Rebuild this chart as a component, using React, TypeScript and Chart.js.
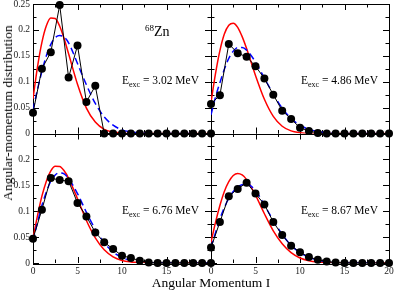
import React, { useEffect, useRef } from "react";
import { Chart, registerables } from "chart.js";

Chart.register(...registerables);

// ---------- data ----------
const angularMomentum = [0, 1, 2, 3, 4, 5, 6, 7, 8, 9, 10, 11, 12, 13, 14, 15, 16, 17, 18, 19, 20];

const exp302 = [0.040, 0.125, 0.157, 0.248, 0.108, 0.170, 0.061, 0.092, 0, 0, 0, 0, 0, 0, 0, 0, 0, 0, 0, 0, 0];
const exp486 = [0.057, 0.074, 0.173, 0.155, 0.148, 0.130, 0.106, 0.075, 0.044, 0.028, 0.011, 0.005, 0.001, 0, 0, 0, 0, 0, 0, 0, 0];
const exp676 = [0.047, 0.103, 0.164, 0.160, 0.158, 0.116, 0.090, 0.059, 0.040, 0.027, 0.014, 0.0097, 0.0045, 0.001, 0, 0, 0, 0, 0, 0, 0];
const exp867 = [0.030, 0.079, 0.129, 0.143, 0.155, 0.134, 0.113, 0.079, 0.054, 0.0335, 0.0206, 0.0116, 0.0064, 0.003, 0.001, 0, 0, 0, 0, 0, 0];

const curveGrid = [0, 0.5, 1, 1.5, 2, 2.5, 3, 3.5, 4, 5, 6, 7, 8, 9, 10, 11, 12, 13, 14, 16, 18, 20];

const red302 = [0.067, 0.128, 0.176, 0.208, 0.223, 0.222, 0.207, 0.183, 0.154, 0.095, 0.049, 0.022, 0.008, 0.003, 0.001, 0, 0, 0, 0, 0, 0, 0];
const blue302 = [0.045, 0.085, 0.120, 0.150, 0.172, 0.185, 0.189, 0.186, 0.175, 0.135, 0.094, 0.058, 0.032, 0.016, 0.007, 0.003, 0.001, 0, 0, 0, 0, 0];

const red486 = [0.060, 0.115, 0.160, 0.192, 0.209, 0.213, 0.205, 0.187, 0.164, 0.112, 0.066, 0.033, 0.014, 0.005, 0.0015, 0, 0, 0, 0, 0, 0, 0];
const blue486 = [0.036, 0.070, 0.098, 0.124, 0.145, 0.159, 0.166, 0.166, 0.161, 0.138, 0.107, 0.076, 0.049, 0.029, 0.016, 0.008, 0.004, 0.0015, 0.0005, 0, 0, 0];

const red676 = [0.047, 0.091, 0.129, 0.158, 0.178, 0.187, 0.1865, 0.178, 0.1635, 0.124, 0.082, 0.0485, 0.0256, 0.012, 0.005, 0.002, 0.0006, 0, 0, 0, 0, 0];
const blue676 = [0.042, 0.078, 0.111, 0.137, 0.158, 0.170, 0.174, 0.172, 0.163, 0.134, 0.098, 0.065, 0.039, 0.021, 0.0107, 0.0049, 0.002, 0.0008, 0, 0, 0, 0];

const red867 = [0.040, 0.078, 0.111, 0.138, 0.157, 0.169, 0.173, 0.170, 0.161, 0.131, 0.095, 0.062, 0.037, 0.020, 0.0097, 0.0044, 0.0018, 0.0007, 0, 0, 0, 0];
const blue867 = [0.030, 0.058, 0.085, 0.107, 0.125, 0.138, 0.147, 0.151, 0.152, 0.140, 0.112, 0.082, 0.055, 0.034, 0.020, 0.011, 0.0055, 0.0025, 0.001, 0, 0, 0];

const yTickLabels = ["0", "0.05", "0.1", "0.15", "0.2", "0.25"];
const xTickLabels = ["0", "5", "10", "15", "20"];
const energyLabels = ["3.02", "4.86", "6.76", "8.67"];

// ---------- helpers ----------
const SERIF = "'Liberation Serif', 'DejaVu Serif', serif";

function pts(xs: number[], ys: number[]) {
  return xs.map((x, i) => ({ x, y: ys[i] }));
}

function panelSets(xID: string, yID: string, expVals: number[], red: number[], blue: number[]) {
  return [
    {
      data: pts(angularMomentum, expVals),
      xAxisID: xID,
      yAxisID: yID,
      borderColor: "#000",
      backgroundColor: "#000",
      borderWidth: 1,
      pointRadius: 4,
      pointBorderWidth: 0,
      showLine: true,
      clip: false as any,
      order: 0,
    },
    {
      data: pts(curveGrid, blue),
      xAxisID: xID,
      yAxisID: yID,
      borderColor: "#0000ff",
      borderWidth: 1.5,
      borderDash: [7, 4],
      pointRadius: 0,
      cubicInterpolationMode: "monotone" as const,
      order: 1,
    },
    {
      data: pts(curveGrid, red),
      xAxisID: xID,
      yAxisID: yID,
      borderColor: "#ff0000",
      borderWidth: 1.5,
      pointRadius: 0,
      cubicInterpolationMode: "monotone" as const,
      order: 2,
    },
  ];
}

const framePlugin = {
  id: "panelFrames",
  beforeDatasetsDraw(chart: any) {
    const ctx = chart.ctx;
    const panels = [
      ["xL", "yT"],
      ["xR", "yT"],
      ["xL", "yB"],
      ["xR", "yB"],
    ];
    ctx.save();
    ctx.strokeStyle = "#000";
    ctx.lineWidth = 1;
    const line = (a: number, b: number, c: number, d: number) => {
      ctx.beginPath();
      ctx.moveTo(a, b);
      ctx.lineTo(c, d);
      ctx.stroke();
    };
    for (const [xi, yi] of panels) {
      const xs = chart.scales[xi];
      const ys = chart.scales[yi];
      const l = xs.left, r = xs.right, t = ys.top, b = ys.bottom;
      ctx.strokeRect(Math.round(l) + 0.5, Math.round(t) + 0.5, Math.round(r - l), Math.round(b - t));
      for (let k = 0; k <= 8; k++) {
        const v = k * 2.5;
        const px = Math.round(xs.getPixelForValue(v)) + 0.5;
        const len = k % 2 === 0 ? 6 : 3.5;
        line(px, b, px, b - len);
        line(px, t, px, t + len);
      }
      for (let k = 0; k <= 10; k++) {
        const v = k * 0.025;
        const py = Math.round(ys.getPixelForValue(v)) + 0.5;
        const len = k % 2 === 0 ? 6 : 3.5;
        line(l, py, l + len, py);
        line(r, py, r - len, py);
      }
    }
    ctx.restore();
  },
};

function yCallback(hideTop: boolean) {
  return (value: number) => {
    const idx = Math.round(value / 0.05);
    if (hideTop && idx === yTickLabels.length - 1) return "";
    return yTickLabels[idx] ?? "";
  };
}
function xCallback(hideLast: boolean) {
  return (value: number) => {
    const idx = Math.round(value / 5);
    if (hideLast && idx === xTickLabels.length - 1) return "";
    return xTickLabels[idx] ?? "";
  };
}

const tickFont = { family: SERIF, size: 9.5 };

function fixY(scale: any) {
  scale.width = 33;
  scale.paddingTop = 0;
  scale.paddingBottom = 0;
}
function fixX(scale: any) {
  scale.height = 28;
  scale.paddingLeft = 0;
  scale.paddingRight = 0;
}

export default function App() {
  const canvasRef = useRef<HTMLCanvasElement | null>(null);

  useEffect(() => {
    if (!canvasRef.current) return;
    const chart = new Chart(canvasRef.current, {
      type: "line",
      data: {
        datasets: [
          ...panelSets("xL", "yT", exp302, red302, blue302),
          ...panelSets("xR", "yT", exp486, red486, blue486),
          ...panelSets("xL", "yB", exp676, red676, blue676),
          ...panelSets("xR", "yB", exp867, red867, blue867),
        ] as any,
      },
      options: {
        animation: false,
        responsive: false,
        events: [],
        layout: { padding: { top: 4, right: 6, left: 0, bottom: 0 } },
        plugins: { legend: { display: false }, tooltip: { enabled: false } },
        scales: {
          xL: {
            type: "linear",
            position: "bottom",
            stack: "h",
            stackWeight: 1,
            min: 0,
            max: 20,
            grid: { display: false, drawTicks: false },
            border: { display: false },
            ticks: { stepSize: 5, autoSkip: false, maxRotation: 0, padding: 3, font: tickFont, color: "#222", callback: xCallback(true) },
            afterFit: fixX,
          },
          xR: {
            type: "linear",
            position: "bottom",
            stack: "h",
            stackWeight: 1,
            min: 0,
            max: 20,
            grid: { display: false, drawTicks: false },
            border: { display: false },
            ticks: { stepSize: 5, autoSkip: false, maxRotation: 0, padding: 3, font: tickFont, color: "#222", callback: xCallback(false) },
            afterFit: fixX,
          },
          yB: {
            type: "linear",
            position: "left",
            stack: "v",
            stackWeight: 1,
            min: 0,
            max: 0.25,
            grid: { display: false, drawTicks: false },
            border: { display: false },
            ticks: { stepSize: 0.05, autoSkip: false, padding: 3, font: tickFont, color: "#222", callback: yCallback(true) },
            afterFit: fixY,
          },
          yT: {
            type: "linear",
            position: "left",
            stack: "v",
            stackWeight: 1,
            min: 0,
            max: 0.25,
            grid: { display: false, drawTicks: false },
            border: { display: false },
            ticks: { stepSize: 0.05, autoSkip: false, padding: 3, font: tickFont, color: "#222", callback: yCallback(false) },
            afterFit: fixY,
          },
        } as any,
      },
      plugins: [framePlugin],
    });
    return () => chart.destroy();
  }, []);

  const eStyle = (left: number, top: number): React.CSSProperties => ({
    position: "absolute",
    left,
    top,
    width: 90,
    textAlign: "right",
    fontFamily: SERIF,
    fontSize: 11.5,
    lineHeight: "12px",
    color: "#000",
    whiteSpace: "nowrap",
  });
  const subStyle: React.CSSProperties = { fontSize: 8, verticalAlign: "-3px", lineHeight: 0 };

  return (
    <div style={{ position: "fixed", left: 0, top: 0, width: 395, height: 291, background: "#fff" }}>
      <canvas ref={canvasRef} width={395} height={291} style={{ position: "absolute", left: 0, top: 0, width: 395, height: 291 }} />
      <div style={eStyle(109, 74)}>
        E<span style={subStyle}>exc</span> = {energyLabels[0]} MeV
      </div>
      <div style={eStyle(288, 74)}>
        E<span style={subStyle}>exc</span> = {energyLabels[1]} MeV
      </div>
      <div style={eStyle(109, 204)}>
        E<span style={subStyle}>exc</span> = {energyLabels[2]} MeV
      </div>
      <div style={eStyle(288, 204)}>
        E<span style={subStyle}>exc</span> = {energyLabels[3]} MeV
      </div>
      <div style={{ position: "absolute", left: 145, top: 25, fontFamily: SERIF, fontSize: 14, lineHeight: "14px", whiteSpace: "nowrap" }}>
        <span style={{ fontSize: 9, verticalAlign: "5px", lineHeight: 0 }}>68</span>Zn
      </div>
      <div
        style={{
          position: "absolute",
          left: 8,
          top: 113,
          transform: "translate(-50%, -50%) rotate(-90deg)",
          fontFamily: SERIF,
          fontSize: 13.5,
          lineHeight: "14px",
          whiteSpace: "nowrap",
        }}
      >
        Angular-momentum distribution
      </div>
      <div
        style={{
          position: "absolute",
          left: 211,
          top: 283,
          transform: "translate(-50%, -50%)",
          fontFamily: SERIF,
          fontSize: 13.5,
          lineHeight: "14px",
          whiteSpace: "nowrap",
        }}
      >
        Angular Momentum I
      </div>
    </div>
  );
}
